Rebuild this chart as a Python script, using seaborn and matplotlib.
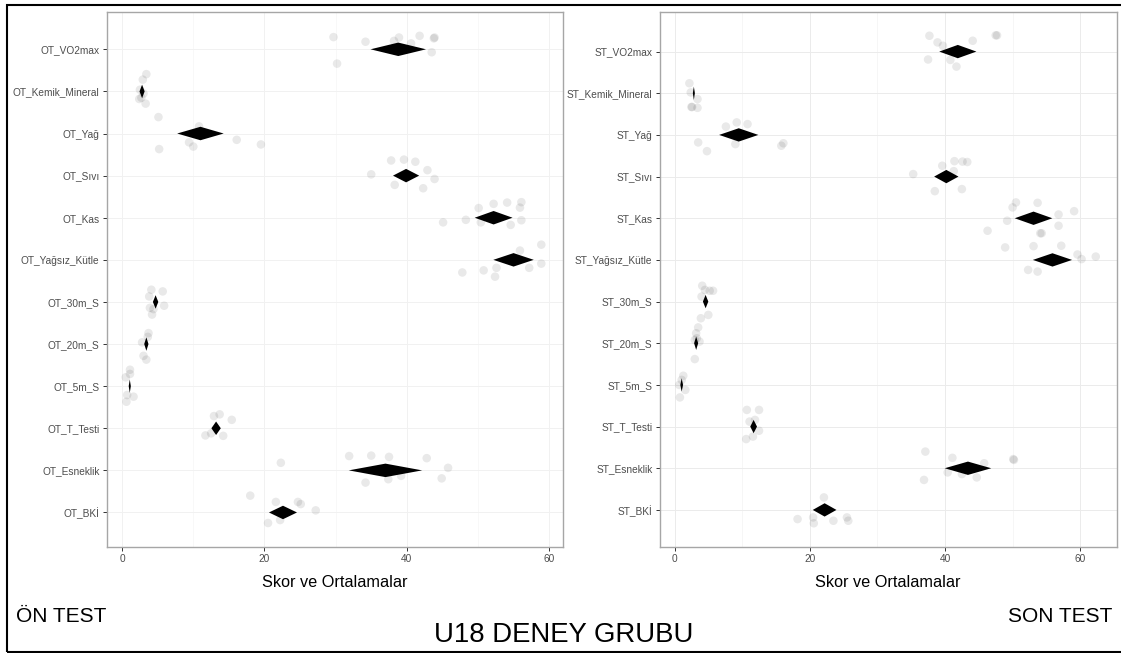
import numpy as np
import pandas as pd
import matplotlib
matplotlib.use("Agg")
import matplotlib.pyplot as plt
from matplotlib.patches import Rectangle
import seaborn as sns

# ---------------- data ----------------
ot_labels = ["OT_VO2max", "OT_Kemik_Mineral", "OT_Yağ", "OT_Sıvı", "OT_Kas", "OT_Yağsız_Kütle",
             "OT_30m_S", "OT_20m_S", "OT_5m_S", "OT_T_Testi", "OT_Esneklik", "OT_BKİ"]
st_labels = ["ST_VO2max", "ST_Kemik_Mineral", "ST_Yağ", "ST_Sıvı", "ST_Kas", "ST_Yağsız_Kütle",
             "ST_30m_S", "ST_20m_S", "ST_5m_S", "ST_T_Testi", "ST_Esneklik", "ST_BKİ"]

ot_scores = [
    [29.7, 30.2, 34.2, 38.2, 38.9, 41.8, 43.8, 43.9, 43.5, 40.6],
    [3.4, 2.9, 2.5, 2.4, 3.3, 2.7, 3.0],
    [5.1, 5.2, 10.8, 9.4, 10.0, 16.1, 19.5],
    [35.0, 37.8, 39.6, 41.2, 42.9, 43.9, 42.3, 38.3],
    [45.1, 48.3, 50.1, 52.2, 54.1, 56.1, 55.9, 56.1, 54.6, 50.4],
    [47.8, 50.8, 52.4, 52.6, 55.9, 57.2, 58.9, 58.9],
    [4.1, 5.7, 3.8, 5.9, 3.9, 4.2, 4.4],
    [3.7, 2.8, 3.0, 3.4, 3.6],
    [1.1, 1.1, 0.5, 0.7, 1.6, 0.6],
    [12.9, 13.7, 15.4, 11.7, 12.5, 14.2],
    [31.9, 35.0, 37.5, 42.8, 22.3, 45.8, 44.9, 39.2, 37.4, 34.2],
    [18.0, 21.6, 24.7, 25.1, 27.2, 20.5, 22.2],
]
ot_jitter = [
    [-0.29, 0.34, -0.18, -0.20, -0.28, -0.32, -0.26, -0.28, 0.07, -0.14],
    [-0.41, -0.28, -0.04, 0.18, 0.29, 0.15, 0.05],
    [-0.39, 0.37, -0.17, 0.21, 0.31, 0.15, 0.26],
    [-0.03, -0.36, -0.38, -0.33, -0.13, 0.08, 0.30, 0.22],
    [0.11, 0.05, -0.23, -0.33, -0.36, -0.37, -0.24, 0.06, 0.17, 0.11],
    [0.30, 0.25, 0.40, 0.19, -0.22, 0.19, -0.36, 0.09],
    [-0.29, -0.25, -0.13, 0.09, 0.14, 0.30, 0.17],
    [-0.26, -0.04, 0.28, 0.37, -0.17],
    [-0.39, -0.29, -0.21, 0.21, 0.25, 0.37],
    [-0.29, -0.33, -0.20, 0.17, 0.12, 0.18],
    [-0.34, -0.35, -0.32, -0.29, -0.18, -0.06, 0.19, 0.13, 0.21, 0.29],
    [-0.40, -0.25, -0.25, -0.20, -0.05, 0.25, 0.18],
]
ot_means = [38.8, 2.8, 11.0, 39.9, 52.2, 55.0, 4.7, 3.4, 1.07, 13.2, 37.0, 22.6]
ot_ci = [3.9, 0.36, 3.27, 1.84, 2.66, 2.84, 0.38, 0.30, 0.15, 0.66, 5.16, 1.97]

st_scores = [
    [37.7, 38.9, 39.7, 44.1, 47.5, 47.7, 37.5, 40.8, 41.7],
    [2.2, 2.4, 3.4, 2.6, 3.4, 2.5],
    [7.6, 9.2, 10.8, 3.5, 4.8, 9.0, 15.8, 16.1],
    [35.3, 39.6, 41.4, 42.6, 43.3, 41.3, 38.5, 42.5],
    [50.5, 50.0, 53.7, 59.1, 56.8, 49.2, 46.3, 56.8, 54.1, 54.3],
    [48.9, 53.1, 57.2, 59.6, 60.2, 62.3, 52.3, 53.7],
    [4.1, 4.5, 5.2, 5.7, 4.0, 5.0, 3.9],
    [3.5, 3.2, 3.3, 3.7, 3.0, 3.0],
    [1.3, 0.7, 1.6, 0.8, 1.06],
    [10.7, 12.5, 11.1, 11.9, 12.5, 10.6, 11.6],
    [37.1, 41.1, 45.8, 50.1, 50.2, 36.9, 40.4, 42.5, 44.7],
    [22.1, 18.2, 20.5, 20.6, 23.5, 25.5, 25.7],
]
st_jitter = [
    [-0.38, -0.22, -0.14, -0.26, -0.39, -0.39, 0.19, 0.20, 0.36],
    [-0.24, -0.02, 0.14, 0.33, 0.35, 0.33],
    [-0.20, -0.30, -0.26, 0.18, 0.39, 0.22, 0.26, 0.20],
    [-0.06, -0.26, -0.37, -0.36, -0.35, -0.13, 0.35, 0.30],
    [-0.38, -0.26, -0.37, -0.17, -0.09, 0.06, 0.30, 0.18, 0.36, 0.36],
    [-0.30, -0.33, -0.34, -0.13, -0.02, -0.08, 0.24, 0.28],
    [-0.38, -0.28, -0.26, -0.26, -0.12, 0.32, 0.40],
    [-0.38, -0.24, -0.12, -0.04, 0.38, -0.08],
    [-0.22, 0.00, 0.12, 0.30, -0.12],
    [-0.40, -0.40, -0.12, -0.16, 0.10, 0.30, 0.24],
    [-0.40, -0.25, -0.12, -0.22, -0.20, 0.28, 0.10, 0.14, 0.22],
    [-0.30, 0.22, 0.18, 0.32, 0.26, 0.18, 0.26],
]
st_means = [41.9, 2.86, 9.5, 40.2, 53.1, 55.9, 4.6, 3.2, 1.06, 11.7, 43.4, 22.2]
st_ci = [2.75, 0.15, 2.9, 1.8, 2.78, 2.9, 0.40, 0.30, 0.20, 0.50, 3.44, 1.75]

x_ticks = [0, 20, 40, 60]
x_label = "Skor ve Ortalamalar"

# ---------------- style ----------------
sns.set_theme(style="white")
plt.rcParams['font.family'] = ['Liberation Sans', 'DejaVu Sans']

W, H = 1121, 653
fig = plt.figure(figsize=(W / 100, H / 100), dpi=100)
fig.patch.set_facecolor("white")


def panel(rect, labels, scores, jitter, means, ci, xlim, ylim, grid_major, grid_minor):
    ax = fig.add_axes(rect)
    rows = []
    for i, lab in enumerate(labels):
        for v, j in zip(scores[i], jitter[i]):
            rows.append({"var": lab, "score": v, "pos": i + j})
    df = pd.DataFrame(rows)
    sns.scatterplot(data=df, x="score", y="pos", ax=ax, color="black", alpha=0.085,
                    s=38, linewidth=0, edgecolor="none", zorder=3)
    h = 0.16
    for i, (m, c) in enumerate(zip(means, ci)):
        ax.fill([m - c, m, m + c, m], [i, i - h, i, i + h], color="black", lw=0, zorder=4)
    ax.set_xlim(*xlim)
    ax.set_ylim(*ylim)
    ax.set_yticks(range(len(labels)))
    ax.set_yticklabels(labels)
    ax.set_xticks(x_ticks)
    ax.set_xticks([10, 30, 50], minor=True)
    ax.grid(True, which="major", color=grid_major, lw=0.7, zorder=0)
    ax.grid(True, which="minor", axis="x", color=grid_minor, lw=0.5, zorder=0)
    ax.set_axisbelow(True)
    ax.tick_params(axis="both", which="major", length=3, width=0.7, color="#333333",
                   labelsize=7.3, labelcolor="#4D4D4D", pad=2, direction="out",
                   left=True, bottom=True)
    ax.tick_params(axis="both", which="minor", length=0)
    for s in ax.spines.values():
        s.set_color("#A6A6A6")
        s.set_linewidth(1.0)
    ax.set_ylabel("")
    ax.set_xlabel(x_label, fontsize=11.7, color="black", labelpad=8)
    return ax


axL = panel([106.5 / W, 1 - 547 / H, (563 - 106.5) / W, (547 - 12) / H],
            ot_labels, ot_scores, ot_jitter, ot_means, ot_ci,
            (-2.2, 61.95), (11.82, -0.886), "#F1F1F1", "#F6F6F6")
axR = panel([659.5 / W, 1 - 547 / H, (1116.5 - 659.5) / W, (547 - 12) / H],
            st_labels, st_scores, st_jitter, st_means, st_ci,
            (-2.22, 65.37), (11.89, -0.95), "#EBEBEB", "#F3F3F3")

fig.text(16 / W, 1 - 622 / H, "ÖN TEST", fontsize=15, ha="left", va="baseline", color="black")
fig.text(1112 / W, 1 - 622 / H, "SON TEST", fontsize=15, ha="right", va="baseline", color="black")
fig.text(564 / W, 1 - 642 / H, "U18 DENEY GRUBU", fontsize=19.8, ha="center", va="baseline", color="black")

fig.add_artist(Rectangle((7 / W, 1 - 652 / H), 1.2, (652 - 5) / H,
                         transform=fig.transFigure, fill=False, edgecolor="black",
                         lw=1.5, clip_on=False))

fig.savefig("out.png", dpi=100, facecolor="white")
